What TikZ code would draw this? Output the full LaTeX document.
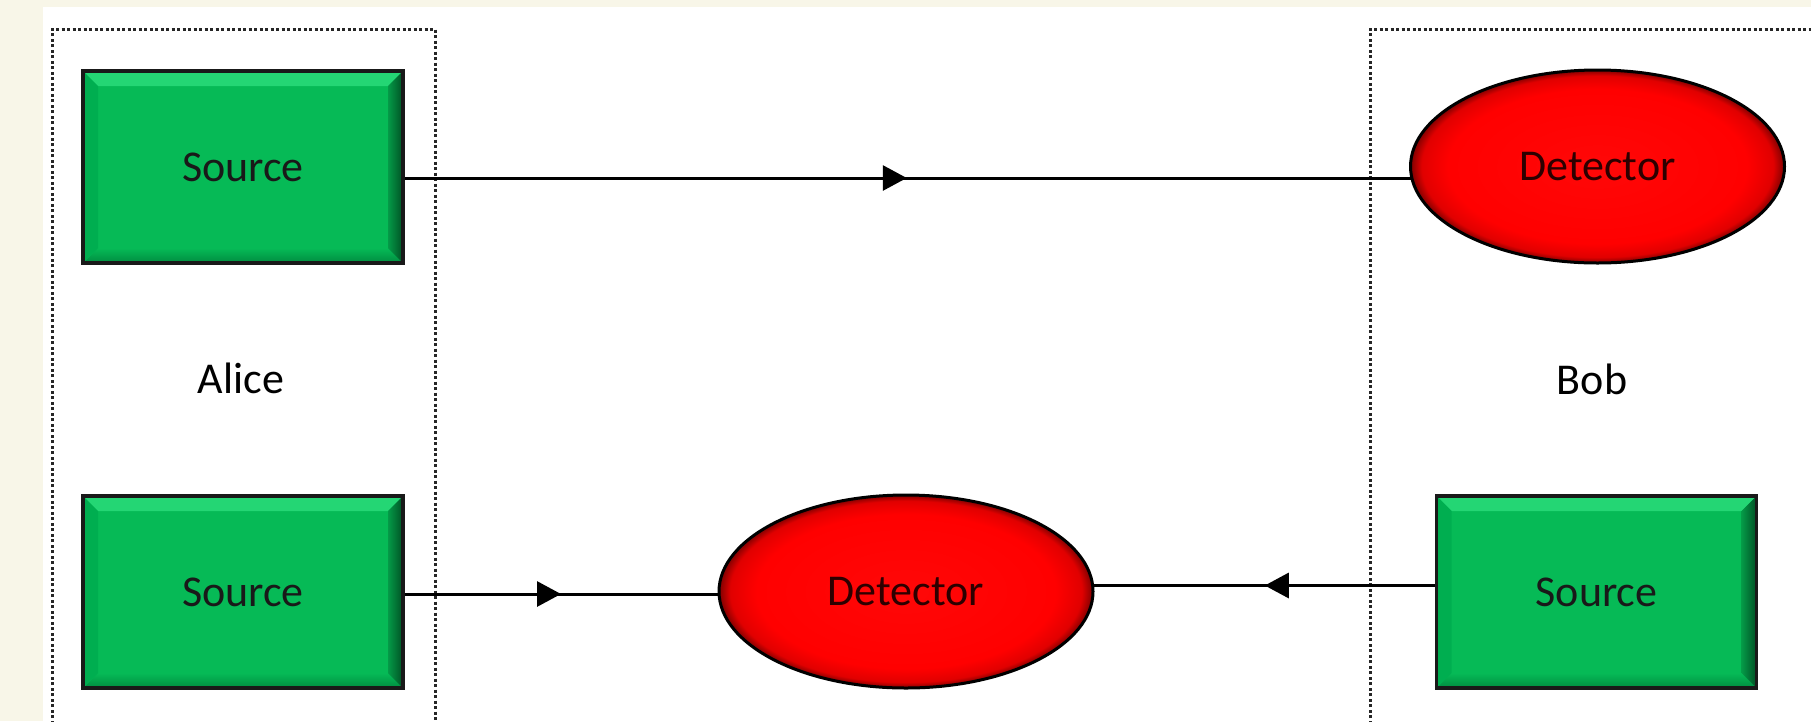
\documentclass[tikz,border=0pt]{standalone}
\usepackage{fontspec}
\setmainfont{Carlito}
\usetikzlibrary{shapes.geometric,arrows.meta,decorations.markings,backgrounds}
\definecolor{cream}{RGB}{248,246,232}
\definecolor{srcgreen}{RGB}{6,186,86}
\definecolor{bevlight}{RGB}{36,214,116}
\definecolor{bevdark}{RGB}{0,140,64}
\definecolor{bevside}{RGB}{0,80,36}
\definecolor{bevleft}{RGB}{0,174,80}
\definecolor{dettext}{RGB}{45,0,0}
\pgfdeclareradialshading{redball}{\pgfpoint{0bp}{0bp}}{rgb(0bp)=(1,0.03,0.03); rgb(20bp)=(1,0,0); rgb(23.5bp)=(0.88,0,0); rgb(25bp)=(0.5,0,0); rgb(50bp)=(0.5,0,0)}
\tikzset{
  txt/.style={font=\fontsize{44}{52}\selectfont},
  srcbox/.style={rectangle, fill=srcgreen, draw=black!90, line width=3.5pt,
    minimum width=320pt, minimum height=192pt, inner sep=0pt, outer sep=0pt,
    txt, text=black!90},
  detell/.style={ellipse, shade, shading=redball, draw=black, line width=3pt,
    minimum width=374pt, minimum height=193pt, inner sep=0pt, outer sep=0pt,
    txt, text=dettext},
  lbl/.style={txt, text=black},
  conn/.style={draw=black, line width=3pt},
  midarrow/.style={postaction={decorate}, decoration={markings,
    mark=at position 0.5 with {\arrow{Triangle[length=24pt,width=25pt]}}}},
  dotbox/.style={draw=black!85, line width=3pt, dash pattern=on 3pt off 2.5pt},
}
\newcommand{\srcbevel}[1]{%
  \fill[bevlight] (#1.north west) -- (#1.north east) -- ([shift={(-15,15)}]#1.north east) -- ([shift={(15,15)}]#1.north west) -- cycle;
  \shade[top color=srcgreen, bottom color=bevdark] (#1.south west) -- (#1.south east) -- ([shift={(-15,-15)}]#1.south east) -- ([shift={(15,-15)}]#1.south west) -- cycle;
  \shade[left color=srcgreen!70!bevside, right color=bevside] (#1.north east) -- (#1.south east) -- ([shift={(-15,-15)}]#1.south east) -- ([shift={(-15,15)}]#1.north east) -- cycle;
  \fill[bevleft] (#1.north west) -- (#1.south west) -- ([shift={(15,-15)}]#1.south west) -- ([shift={(15,15)}]#1.north west) -- cycle;
  \draw[line width=3.5pt, draw=black!90] (#1.north west) rectangle (#1.south east);
}
\begin{document}
\begin{tikzpicture}[x=1pt,y=-1pt]
\useasboundingbox (0,0) rectangle (1811,721);
\clip (0,0) rectangle (1811,721);

\node[srcbox] (s1) at (243,167) {Source};
\srcbevel{s1}
\node[srcbox] (s2) at (243,592) {Source};
\srcbevel{s2}
\node[srcbox] (s3) at (1596.5,592) {Source};
\srcbevel{s3}

\node[detell] (d1) at (1597.5,166.5) {Detector};
\node[detell] (d2) at (906,591.5) {Detector};

\node[lbl] (alice) at (241,378) {Alice};
\node[lbl] (bob) at (1592,379) {Bob};

\begin{scope}[on background layer]
  \fill[white] (0,0) rectangle (1811,721);
  \fill[cream] (0,0) rectangle (43,721);
  \fill[cream] (0,0) rectangle (1811,7);
  \draw[dotbox] (52,740) -- (52,29) -- (435,29) -- (435,740);
  \draw[dotbox] (1370,740) -- (1370,29) -- (1830,29);
  \coordinate (c1) at ([shift={(0,11)}]s1.east);
  \draw[conn, midarrow] (c1) -- (c1 -| d1.west);
  \coordinate (c2) at ([shift={(0,2)}]s2.east);
  \draw[conn, midarrow] (c2) -- (c2 -| d2.west);
  \coordinate (c3) at ([shift={(0,-6.5)}]s3.west);
  \draw[conn, midarrow] (c3) -- (c3 -| d2.east);
\end{scope}
\end{tikzpicture}
\end{document}
